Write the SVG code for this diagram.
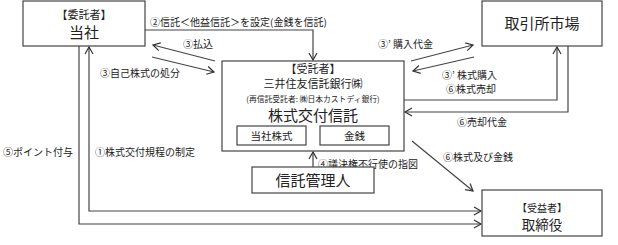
<svg xmlns="http://www.w3.org/2000/svg" width="618" height="245" viewBox="0 0 618 245">
<defs>
<marker id="arr" markerUnits="userSpaceOnUse" markerWidth="12" markerHeight="12" refX="8" refY="5" orient="auto-start-reverse">
<path d="M1,1 L8,5 L1,9" fill="none" stroke="#333" stroke-width="1.2"/>
</marker>
<style>
.box{fill:#fff;stroke:#444;stroke-width:1.2}
.ln{fill:none;stroke:#444;stroke-width:1.2}
text{font-family:"Noto Sans CJK JP","Liberation Serif",serif;fill:#222}
.lb{font-size:10px}
.c{text-anchor:middle}
</style>
</defs>
<rect width="618" height="245" fill="#fff"/>
<g id="connectors">
<path class="ln" d="M145,30 H313 V60" marker-end="url(#arr)"/>
<path class="ln" d="M215,61 L153,45" marker-end="url(#arr)"/>
<path class="ln" d="M152,57 L214,72" marker-end="url(#arr)"/>
<path class="ln" d="M411,61 L473,45" marker-end="url(#arr)"/>
<path class="ln" d="M474,57 L413,71" marker-end="url(#arr)"/>
<path class="ln" d="M404,100 H557 V47" marker-end="url(#arr)"/>
<path class="ln" d="M568,46 V112 H405" marker-end="url(#arr)"/>
<path class="ln" d="M313,167 V152" marker-end="url(#arr)"/>
<path class="ln" d="M412,141 L473,191" marker-end="url(#arr)"/>
<path class="ln" d="M89,47 V211 H481" marker-start="url(#arr)" marker-end="url(#arr)"/>
<path class="ln" d="M79,46 V224 H481" marker-end="url(#arr)"/>
<text class="lb" x="150" y="26">②信託＜他益信託＞を設定(金銭を信託)</text>
<text class="lb" x="183" y="48">③払込</text>
<text class="lb" x="100" y="77">③自己株式の処分</text>
<text class="lb" x="378" y="48">③’ 購入代金</text>
<text class="lb" x="442" y="79">③’ 株式購入</text>
<text class="lb" x="446" y="93">⑥株式売却</text>
<text class="lb" x="457" y="126">⑥売却代金</text>
<text class="lb" x="443" y="161">⑥株式及び金銭</text>
<text class="lb" x="318" y="168">④議決権不行使の指図</text>
<text class="lb" x="3" y="156">⑤ポイント付与</text>
<text class="lb" x="95" y="156">①株式交付規程の制定</text>
</g>
<g id="itakusha">
<rect class="box" x="23" y="1" width="122" height="45"/>
<text class="c" x="84" y="19" font-size="11">【委託者】</text>
<text class="c" x="84" y="38" font-size="15">当社</text>
</g>
<g id="jutakusha">
<rect class="box" x="222" y="61" width="182" height="90"/>
<text class="c" x="313" y="73" font-size="11">【受託者】</text>
<text class="c" x="313" y="88" font-size="11">三井住友信託銀行㈱</text>
<text class="c" x="313" y="102" font-size="7.8">(再信託受託者: ㈱日本カストディ銀行)</text>
<text class="c" x="313" y="121" font-size="15">株式交付信託</text>
</g>
<g id="toshakabushiki">
<rect class="box" x="237" y="126" width="69" height="19"/>
<text class="c" x="271.5" y="139.5" font-size="10.5">当社株式</text>
</g>
<g id="kinsen">
<rect class="box" x="320" y="126" width="69" height="19"/>
<text class="c" x="354.5" y="139.5" font-size="10.5">金銭</text>
</g>
<g id="kanrinin">
<rect class="box" x="252" y="167" width="122" height="26"/>
<text class="c" x="313" y="185.5" font-size="15">信託管理人</text>
</g>
<g id="torihikisho">
<rect class="box" x="482" y="1" width="120" height="45"/>
<text class="c" x="542" y="29" font-size="15">取引所市場</text>
</g>
<g id="juekisha">
<rect class="box" x="482" y="190" width="120" height="46"/>
<text class="c" x="542" y="211.5" font-size="10">【受益者】</text>
<text class="c" x="542" y="230" font-size="13.5">取締役</text>
</g>
</svg>
